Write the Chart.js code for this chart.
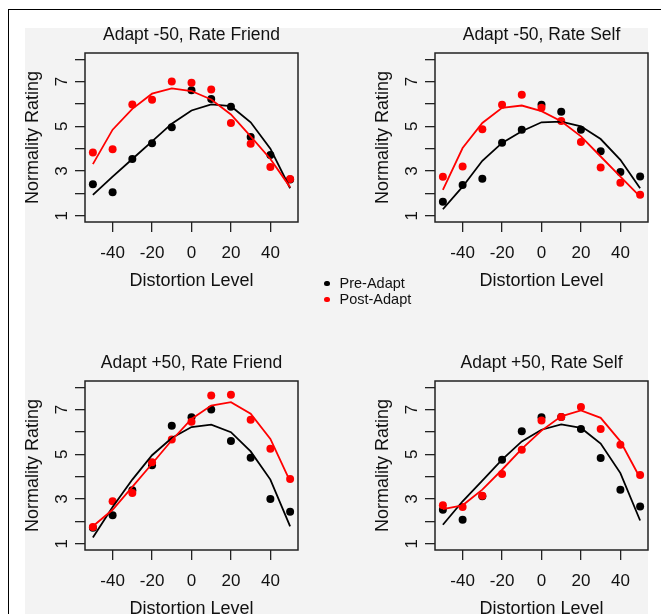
<!DOCTYPE html>
<html>
<head>
<meta charset="utf-8">
<title>Normality Rating by Distortion Level</title>
<script src="https://cdn.jsdelivr.net/npm/chart.js@4.4.0/dist/chart.umd.min.js"></script>
<style>
  html, body { margin: 0; padding: 0; background: #fff; }
  body { width: 661px; height: 614px; overflow: hidden; position: relative; font-family: 'Liberation Sans', Arial, sans-serif; }
  #frame { position: absolute; left: 8px; top: 9px; width: 720px; height: 700px;
           border-left: 1.5px solid #000; border-top: 1.5px solid #000; }
  #panelBg { position: absolute; left: 25px; top: 28px; width: 623px; height: 600px; background: #f3f3f3; }
  canvas { position: absolute; }
  .key { position: absolute; left: 324px; font-size: 14.5px; line-height: 16px; color: #111; white-space: nowrap; }
  .key span { display: inline-block; width: 5.5px; height: 5.5px; border-radius: 50%; margin-right: 10px; vertical-align: 2px; }
</style>
</head>
<body>
<div id="frame"></div>
<div id="panelBg"></div>

<canvas id="pFriendMinus" width="339" height="274" style="left:22px; top:18px"></canvas>
<canvas id="pSelfMinus" width="339" height="274" style="left:372px; top:18px"></canvas>
<canvas id="pFriendPlus" width="339" height="274" style="left:22px; top:346px"></canvas>
<canvas id="pSelfPlus" width="339" height="274" style="left:372px; top:346px"></canvas>

<div class="key" style="top:275px"><span style="background:#000"></span>Pre-Adapt</div>
<div class="key" style="top:291px"><span style="background:#f00"></span>Post-Adapt</div>

<script>
// ---- data ----
const LEVELS = [-50, -40, -30, -20, -10, 0, 10, 20, 30, 40, 50];
const X_TICKS = [-40, -20, 0, 20, 40];
const Y_TICKS = [1, 2, 3, 4, 5, 6, 7, 8];
const Y_LABELS = ['1', '', '3', '', '5', '', '7', ''];

// Adapt -50, Rate Friend
const preFriendMinus = [2.41, 2.05, 3.54, 4.24, 4.96, 6.61, 6.22, 5.87, 4.52, 3.72, 2.62];
const postFriendMinus = [3.83, 3.97, 5.98, 6.19, 7.01, 6.95, 6.65, 5.15, 4.22, 3.18, 2.64];
const preFitFriendMinus = [1.93, 2.75, 3.54, 4.33, 5.12, 5.71, 5.98, 5.90, 5.18, 4.00, 2.23];
const postFitFriendMinus = [3.31, 4.85, 5.78, 6.46, 6.70, 6.58, 6.20, 5.53, 4.55, 3.54, 2.28];

// Adapt -50, Rate Self
const preSelfMinus = [1.63, 2.38, 2.66, 4.26, 4.85, 5.96, 5.65, 4.85, 3.89, 2.96, 2.75];
const postSelfMinus = [2.74, 3.20, 4.87, 5.96, 6.41, 5.83, 5.24, 4.30, 3.16, 2.48, 1.94];
const preFitSelfMinus = [1.29, 2.30, 3.46, 4.26, 4.78, 5.18, 5.21, 5.00, 4.43, 3.50, 2.23];
const postFitSelfMinus = [2.16, 4.03, 5.15, 5.83, 5.93, 5.68, 5.23, 4.55, 3.65, 2.75, 1.85];

// Adapt +50, Rate Friend
const preFriendPlus = [1.72, 2.27, 3.39, 4.51, 6.28, 6.66, 7.00, 5.60, 4.85, 3.00, 2.43];
const postFriendPlus = [1.75, 2.90, 3.27, 4.64, 5.66, 6.46, 7.63, 7.66, 6.55, 5.25, 3.90];
const preFitFriendPlus = [1.28, 2.64, 3.87, 4.96, 5.73, 6.22, 6.33, 5.99, 5.13, 3.87, 1.78];
const postFitFriendPlus = [1.78, 2.52, 3.54, 4.58, 5.63, 6.58, 7.18, 7.33, 6.82, 5.69, 3.79];

// Adapt +50, Rate Self
const preSelfPlus = [2.52, 2.07, 3.12, 4.76, 6.03, 6.66, 6.67, 6.13, 4.84, 3.42, 2.67];
const postSelfPlus = [2.72, 2.64, 3.15, 4.12, 5.21, 6.51, 6.67, 7.12, 6.13, 5.43, 4.07];
const preFitSelfPlus = [1.85, 2.90, 3.82, 4.76, 5.58, 6.10, 6.34, 6.18, 5.48, 4.16, 2.04];
const postFitSelfPlus = [2.55, 2.72, 3.42, 4.31, 5.24, 6.06, 6.70, 6.96, 6.63, 5.58, 3.94];

// ---- styling ----
const FONT = "'Liberation Sans', Arial, sans-serif";
const INK = '#111';
const PRE_COLOR = '#000000';
const POST_COLOR = '#ff0000';
const Y_MIN = 0.72, Y_MAX = 8.28;   // 1..8 with R's 4% padding
const X_MIN = -54, X_MAX = 54;      // -50..50 with R's 4% padding

const toXY = (vals) => vals.map((v, i) => ({ x: LEVELS[i], y: v }));

// R-style closed box around the plotting region
const boxPlugin = {
  id: 'box',
  afterDraw(chart) {
    const { ctx, chartArea: a } = chart;
    ctx.save();
    ctx.strokeStyle = '#222';
    ctx.lineWidth = 1.5;
    ctx.strokeRect(a.left, a.top, a.right - a.left, a.bottom - a.top);
    ctx.restore();
  }
};

function axisGrid() {
  return { display: true, drawOnChartArea: false, drawTicks: true, tickLength: 10, color: '#222', lineWidth: 1.3 };
}

function makePanel(id, title, pre, post, preFit, postFit) {
  const pointSet = (label, vals, color, order) => ({
    label, data: toXY(vals), backgroundColor: color, borderColor: color,
    pointRadius: 4, pointBorderWidth: 0, showLine: false, order
  });
  const lineSet = (label, vals, color, order) => ({
    label, data: toXY(vals), borderColor: color, backgroundColor: color,
    borderWidth: 1.8, pointRadius: 0, showLine: true, tension: 0, order
  });

  new Chart(document.getElementById(id), {
    type: 'scatter',
    data: {
      datasets: [
        pointSet('Pre-Adapt', pre, PRE_COLOR, 3),
        pointSet('Post-Adapt', post, POST_COLOR, 2),
        lineSet('Pre-Adapt fit', preFit, PRE_COLOR, 1),
        lineSet('Post-Adapt fit', postFit, POST_COLOR, 0)
      ]
    },
    options: {
      responsive: false,
      animation: false,
      layout: { padding: 0 },
      plugins: {
        legend: { display: false },
        tooltip: { enabled: false },
        title: {
          display: true, text: title, color: INK,
          font: { family: FONT, size: 17.5, weight: 'normal' },
          padding: { top: 6.5, bottom: 7.5 }
        }
      },
      scales: {
        x: {
          type: 'linear', min: X_MIN, max: X_MAX,
          afterBuildTicks: (s) => { s.ticks = X_TICKS.map(v => ({ value: v })); },
          afterFit: (s) => { s.height = 70; },
          grid: axisGrid(),
          border: { display: false },
          ticks: { color: INK, font: { family: FONT, size: 17 }, padding: 11.5, maxRotation: 0, autoSkip: false },
          title: { display: true, text: 'Distortion Level', color: INK, font: { family: FONT, size: 18 }, padding: 0 }
        },
        y: {
          type: 'linear', min: Y_MIN, max: Y_MAX,
          afterBuildTicks: (s) => { s.ticks = Y_TICKS.map(v => ({ value: v })); },
          afterFit: (s) => { s.width = 63; },
          grid: axisGrid(),
          border: { display: false },
          ticks: {
            color: INK, font: { family: FONT, size: 17 }, padding: 8,
            minRotation: 90, maxRotation: 90, crossAlign: 'center', autoSkip: false,
            callback: (v, i) => Y_LABELS[i]
          },
          title: { display: true, text: 'Normality Rating', color: INK, font: { family: FONT, size: 18 }, padding: 0 }
        },
        // empty right-hand margin so the title centres over the box
        yRight: {
          type: 'linear', position: 'right', min: Y_MIN, max: Y_MAX,
          afterFit: (s) => { s.width = 63; },
          grid: { display: false },
          border: { display: false },
          ticks: { display: false }
        }
      }
    },
    plugins: [boxPlugin]
  });
}

makePanel('pFriendMinus', 'Adapt -50, Rate Friend', preFriendMinus, postFriendMinus, preFitFriendMinus, postFitFriendMinus);
makePanel('pSelfMinus', 'Adapt -50, Rate Self', preSelfMinus, postSelfMinus, preFitSelfMinus, postFitSelfMinus);
makePanel('pFriendPlus', 'Adapt +50, Rate Friend', preFriendPlus, postFriendPlus, preFitFriendPlus, postFitFriendPlus);
makePanel('pSelfPlus', 'Adapt +50, Rate Self', preSelfPlus, postSelfPlus, preFitSelfPlus, postFitSelfPlus);
</script>
</body>
</html>
